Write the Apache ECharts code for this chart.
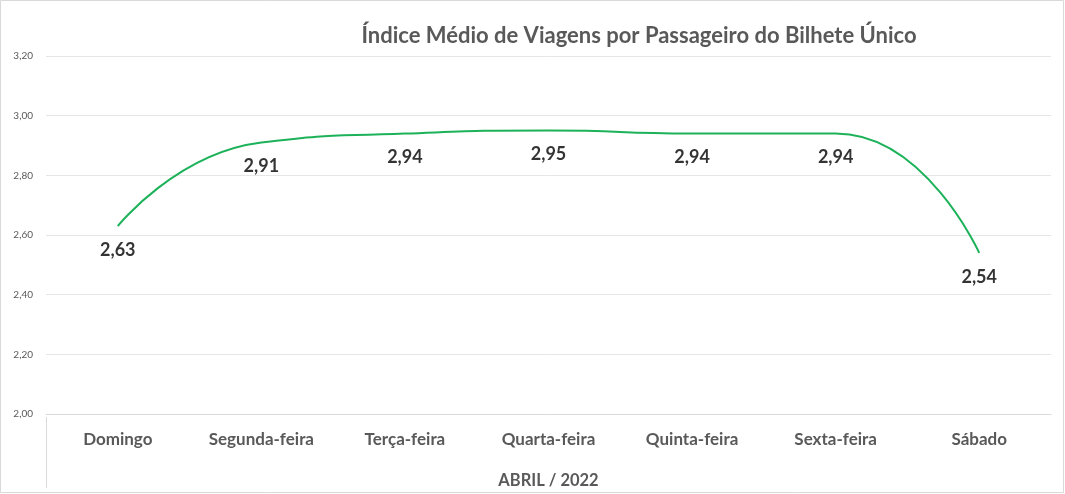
<!DOCTYPE html>
<html><head><meta charset="utf-8">
<script src="https://cdn.jsdelivr.net/npm/echarts@6/dist/echarts.min.js"></script>
<style>html,body{margin:0;padding:0;background:#fff}#c{width:1065px;height:494px}</style>
</head><body><div id="c"></div>
<script>
const categories = ['Domingo','Segunda-feira','Terça-feira','Quarta-feira','Quinta-feira','Sexta-feira','Sábado'];
const values = [2.63, 2.91, 2.94, 2.95, 2.94, 2.94, 2.54];
const yMin = 2.0, yMax = 3.2, yStep = 0.2;
const chartTitle = 'Índice Médio de Viagens por Passageiro do Bilhete Único';
const xName = 'ABRIL / 2022';
const fmt = v => Number(v).toFixed(2).replace('.', ',');
const FONT = 'Lato';
const chart = echarts.init(document.getElementById('c'), null, {renderer:'canvas'});
chart.setOption({
  backgroundColor:'#fff',
  animation:false,
  title:{text:chartTitle, left:634, top:20, textAlign:'center',
    textStyle:{fontFamily:FONT, fontWeight:'bold', fontSize:22, color:'#595959'}},
  grid:{left:46, right:14, top:56, bottom:77, containLabel:false},
  xAxis:{type:'category', data:categories, boundaryGap:true,
    name:xName, nameLocation:'middle', nameGap:58,
    nameTextStyle:{fontFamily:FONT, fontWeight:'bold', fontSize:16.5, color:'#595959'},
    axisLine:{show:true, lineStyle:{color:'#d9d9d9', width:1}},
    axisTick:{show:false},
    axisLabel:{fontFamily:FONT, fontWeight:'bold', fontSize:17, color:'#595959', margin:17}},
  yAxis:{type:'value', min:yMin, max:yMax, interval:yStep,
    axisLine:{show:false}, axisTick:{show:false},
    splitLine:{lineStyle:{color:'#e6e6e6', width:1}},
    axisLabel:{fontFamily:FONT, fontSize:10, color:'#595959', margin:13, formatter:fmt}},
  series:[
    {type:'line', data:values, smooth:0.55, symbol:'none',
      lineStyle:{color:'#1db25a', width:2}, z:2},
    {type:'scatter', data:values, symbolSize:2, z:3,
      itemStyle:{color:'rgba(0,0,0,0)'},
      label:{show:true, position:'bottom', distance:14, formatter:p=>fmt(p.value),
        fontFamily:FONT, fontWeight:'bold', fontSize:18, color:'#000'}}
  ],
  graphic:[
    {type:'rect', shape:{x:0.5,y:0.5,width:1063,height:492}, style:{fill:'none', stroke:'#d9d9d9', lineWidth:1}, silent:true},
    {type:'line', shape:{x1:46.5,y1:417,x2:46.5,y2:488}, style:{stroke:'#d9d9d9', lineWidth:1}, silent:true}
  ]
});
</script></body></html>
